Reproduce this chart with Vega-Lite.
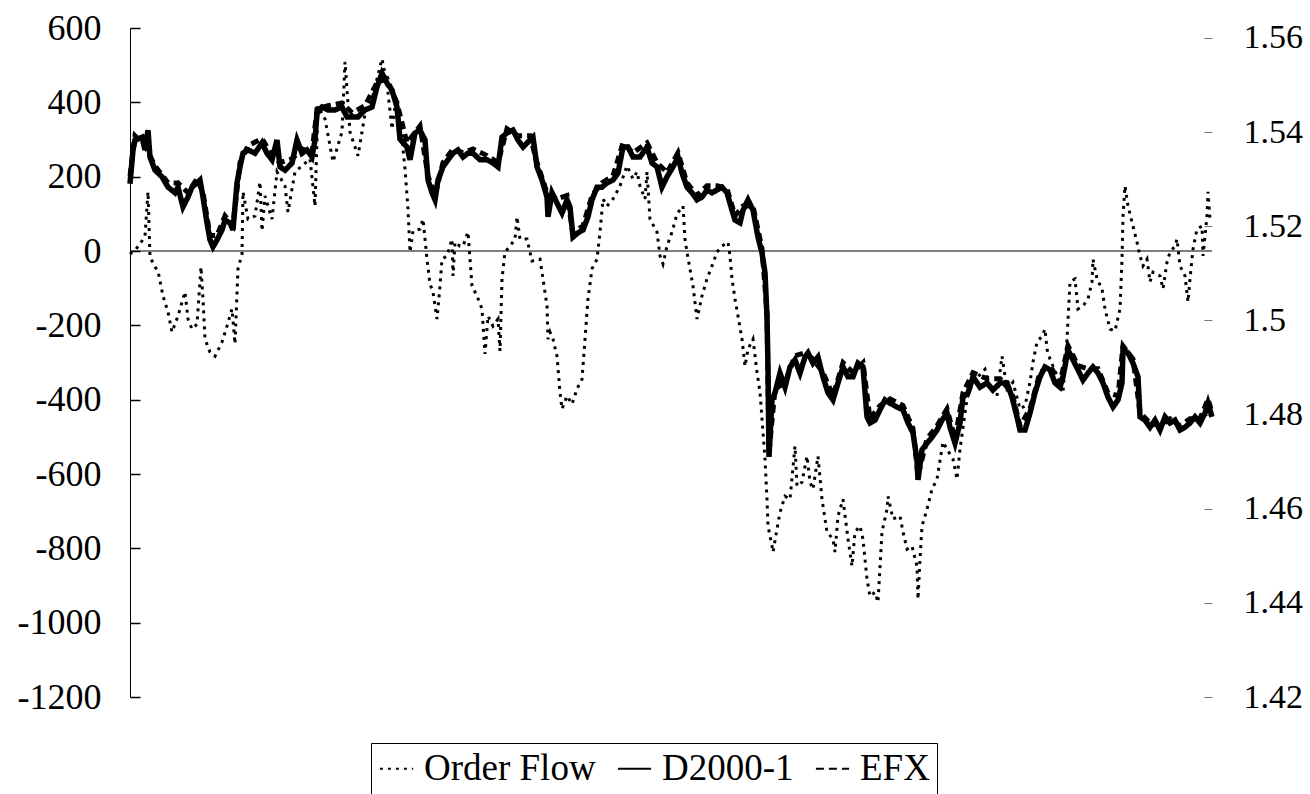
{
  "$schema": "https://vega.github.io/schema/vega-lite/v6.json",
  "width": 1082,
  "height": 669,
  "autosize": {"type": "none"},
  "padding": {"left": 130, "top": 28, "right": 98, "bottom": 97},
  "background": "white",
  "config": {
    "view": {"stroke": null},
    "font": "Liberation Serif",
    "legend": {
      "orient": "none",
      "legendX": 241,
      "legendY": 715,
      "direction": "horizontal",
      "symbolType": "stroke",
      "symbolSize": 1100,
      "symbolStrokeWidth": 2,
      "symbolStrokeColor": "black",
      "labelFont": "Liberation Serif",
      "labelFontSize": 37,
      "labelColor": "black",
      "labelLimit": 400,
      "labelOffset": 9,
      "columnPadding": 17,
      "strokeColor": "black",
      "padding": 7,
      "title": null
    }
  },
  "datasets": {
    "of": [
      {"t":0,"v":-8,"series":"Order Flow"},{"t":6,"v":5,"series":"Order Flow"},{"t":10,"v":19,"series":"Order Flow"},{"t":15,"v":40,"series":"Order Flow"},{"t":18,"v":159,"series":"Order Flow"},{"t":20,"v":-16,"series":"Order Flow"},{"t":25,"v":-43,"series":"Order Flow"},{"t":28,"v":-54,"series":"Order Flow"},{"t":33,"v":-121,"series":"Order Flow"},{"t":38,"v":-164,"series":"Order Flow"},{"t":42,"v":-218,"series":"Order Flow"},{"t":48,"v":-175,"series":"Order Flow"},{"t":55,"v":-110,"series":"Order Flow"},{"t":58,"v":-183,"series":"Order Flow"},{"t":62,"v":-210,"series":"Order Flow"},{"t":67,"v":-197,"series":"Order Flow"},{"t":71,"v":-43,"series":"Order Flow"},{"t":73,"v":-129,"series":"Order Flow"},{"t":75,"v":-237,"series":"Order Flow"},{"t":80,"v":-272,"series":"Order Flow"},{"t":85,"v":-283,"series":"Order Flow"},{"t":92,"v":-245,"series":"Order Flow"},{"t":97,"v":-202,"series":"Order Flow"},{"t":102,"v":-156,"series":"Order Flow"},{"t":105,"v":-250,"series":"Order Flow"},{"t":108,"v":-48,"series":"Order Flow"},{"t":112,"v":-8,"series":"Order Flow"},{"t":113,"v":159,"series":"Order Flow"},{"t":118,"v":86,"series":"Order Flow"},{"t":125,"v":94,"series":"Order Flow"},{"t":130,"v":186,"series":"Order Flow"},{"t":132,"v":54,"series":"Order Flow"},{"t":135,"v":148,"series":"Order Flow"},{"t":142,"v":86,"series":"Order Flow"},{"t":147,"v":213,"series":"Order Flow"},{"t":155,"v":175,"series":"Order Flow"},{"t":158,"v":105,"series":"Order Flow"},{"t":165,"v":213,"series":"Order Flow"},{"t":172,"v":229,"series":"Order Flow"},{"t":180,"v":248,"series":"Order Flow"},{"t":185,"v":121,"series":"Order Flow"},{"t":188,"v":390,"series":"Order Flow"},{"t":195,"v":355,"series":"Order Flow"},{"t":203,"v":240,"series":"Order Flow"},{"t":212,"v":320,"series":"Order Flow"},{"t":215,"v":509,"series":"Order Flow"},{"t":220,"v":320,"series":"Order Flow"},{"t":228,"v":256,"series":"Order Flow"},{"t":235,"v":369,"series":"Order Flow"},{"t":242,"v":409,"series":"Order Flow"},{"t":252,"v":517,"series":"Order Flow"},{"t":257,"v":450,"series":"Order Flow"},{"t":262,"v":328,"series":"Order Flow"},{"t":266,"v":409,"series":"Order Flow"},{"t":272,"v":301,"series":"Order Flow"},{"t":275,"v":221,"series":"Order Flow"},{"t":278,"v":113,"series":"Order Flow"},{"t":280,"v":-3,"series":"Order Flow"},{"t":283,"v":54,"series":"Order Flow"},{"t":290,"v":59,"series":"Order Flow"},{"t":293,"v":86,"series":"Order Flow"},{"t":297,"v":-22,"series":"Order Flow"},{"t":300,"v":-89,"series":"Order Flow"},{"t":303,"v":-110,"series":"Order Flow"},{"t":307,"v":-183,"series":"Order Flow"},{"t":310,"v":-94,"series":"Order Flow"},{"t":312,"v":-22,"series":"Order Flow"},{"t":317,"v":-13,"series":"Order Flow"},{"t":322,"v":32,"series":"Order Flow"},{"t":323,"v":-67,"series":"Order Flow"},{"t":325,"v":24,"series":"Order Flow"},{"t":330,"v":13,"series":"Order Flow"},{"t":333,"v":13,"series":"Order Flow"},{"t":338,"v":51,"series":"Order Flow"},{"t":342,"v":-94,"series":"Order Flow"},{"t":347,"v":-121,"series":"Order Flow"},{"t":352,"v":-156,"series":"Order Flow"},{"t":355,"v":-277,"series":"Order Flow"},{"t":358,"v":-175,"series":"Order Flow"},{"t":363,"v":-202,"series":"Order Flow"},{"t":368,"v":-183,"series":"Order Flow"},{"t":370,"v":-269,"series":"Order Flow"},{"t":372,"v":-75,"series":"Order Flow"},{"t":375,"v":-3,"series":"Order Flow"},{"t":380,"v":13,"series":"Order Flow"},{"t":385,"v":32,"series":"Order Flow"},{"t":387,"v":92,"series":"Order Flow"},{"t":390,"v":32,"series":"Order Flow"},{"t":397,"v":32,"series":"Order Flow"},{"t":402,"v":-27,"series":"Order Flow"},{"t":410,"v":-22,"series":"Order Flow"},{"t":413,"v":-75,"series":"Order Flow"},{"t":417,"v":-148,"series":"Order Flow"},{"t":418,"v":-237,"series":"Order Flow"},{"t":420,"v":-218,"series":"Order Flow"},{"t":423,"v":-237,"series":"Order Flow"},{"t":427,"v":-283,"series":"Order Flow"},{"t":430,"v":-380,"series":"Order Flow"},{"t":432,"v":-425,"series":"Order Flow"},{"t":437,"v":-390,"series":"Order Flow"},{"t":442,"v":-412,"series":"Order Flow"},{"t":447,"v":-371,"series":"Order Flow"},{"t":452,"v":-345,"series":"Order Flow"},{"t":455,"v":-237,"series":"Order Flow"},{"t":458,"v":-129,"series":"Order Flow"},{"t":462,"v":-48,"series":"Order Flow"},{"t":467,"v":-22,"series":"Order Flow"},{"t":470,"v":51,"series":"Order Flow"},{"t":473,"v":140,"series":"Order Flow"},{"t":477,"v":121,"series":"Order Flow"},{"t":483,"v":140,"series":"Order Flow"},{"t":490,"v":175,"series":"Order Flow"},{"t":497,"v":229,"series":"Order Flow"},{"t":503,"v":194,"series":"Order Flow"},{"t":507,"v":213,"series":"Order Flow"},{"t":510,"v":175,"series":"Order Flow"},{"t":515,"v":140,"series":"Order Flow"},{"t":517,"v":213,"series":"Order Flow"},{"t":520,"v":86,"series":"Order Flow"},{"t":527,"v":51,"series":"Order Flow"},{"t":530,"v":-13,"series":"Order Flow"},{"t":533,"v":-35,"series":"Order Flow"},{"t":537,"v":13,"series":"Order Flow"},{"t":542,"v":51,"series":"Order Flow"},{"t":547,"v":100,"series":"Order Flow"},{"t":553,"v":121,"series":"Order Flow"},{"t":555,"v":32,"series":"Order Flow"},{"t":557,"v":-3,"series":"Order Flow"},{"t":563,"v":-94,"series":"Order Flow"},{"t":567,"v":-183,"series":"Order Flow"},{"t":572,"v":-121,"series":"Order Flow"},{"t":577,"v":-75,"series":"Order Flow"},{"t":582,"v":-40,"series":"Order Flow"},{"t":587,"v":-3,"series":"Order Flow"},{"t":592,"v":13,"series":"Order Flow"},{"t":598,"v":24,"series":"Order Flow"},{"t":600,"v":-13,"series":"Order Flow"},{"t":602,"v":-75,"series":"Order Flow"},{"t":605,"v":-129,"series":"Order Flow"},{"t":608,"v":-175,"series":"Order Flow"},{"t":612,"v":-237,"series":"Order Flow"},{"t":615,"v":-310,"series":"Order Flow"},{"t":618,"v":-264,"series":"Order Flow"},{"t":623,"v":-237,"series":"Order Flow"},{"t":627,"v":-326,"series":"Order Flow"},{"t":630,"v":-380,"series":"Order Flow"},{"t":633,"v":-487,"series":"Order Flow"},{"t":635,"v":-560,"series":"Order Flow"},{"t":637,"v":-668,"series":"Order Flow"},{"t":638,"v":-740,"series":"Order Flow"},{"t":642,"v":-794,"series":"Order Flow"},{"t":643,"v":-810,"series":"Order Flow"},{"t":647,"v":-748,"series":"Order Flow"},{"t":650,"v":-703,"series":"Order Flow"},{"t":655,"v":-660,"series":"Order Flow"},{"t":660,"v":-668,"series":"Order Flow"},{"t":665,"v":-525,"series":"Order Flow"},{"t":667,"v":-633,"series":"Order Flow"},{"t":672,"v":-622,"series":"Order Flow"},{"t":677,"v":-552,"series":"Order Flow"},{"t":680,"v":-622,"series":"Order Flow"},{"t":683,"v":-641,"series":"Order Flow"},{"t":688,"v":-552,"series":"Order Flow"},{"t":692,"v":-668,"series":"Order Flow"},{"t":697,"v":-756,"series":"Order Flow"},{"t":703,"v":-775,"series":"Order Flow"},{"t":705,"v":-810,"series":"Order Flow"},{"t":708,"v":-713,"series":"Order Flow"},{"t":713,"v":-668,"series":"Order Flow"},{"t":718,"v":-775,"series":"Order Flow"},{"t":722,"v":-848,"series":"Order Flow"},{"t":725,"v":-756,"series":"Order Flow"},{"t":730,"v":-740,"series":"Order Flow"},{"t":733,"v":-775,"series":"Order Flow"},{"t":737,"v":-883,"series":"Order Flow"},{"t":740,"v":-929,"series":"Order Flow"},{"t":745,"v":-918,"series":"Order Flow"},{"t":748,"v":-945,"series":"Order Flow"},{"t":752,"v":-756,"series":"Order Flow"},{"t":757,"v":-695,"series":"Order Flow"},{"t":758,"v":-660,"series":"Order Flow"},{"t":763,"v":-721,"series":"Order Flow"},{"t":770,"v":-713,"series":"Order Flow"},{"t":773,"v":-756,"series":"Order Flow"},{"t":777,"v":-802,"series":"Order Flow"},{"t":782,"v":-794,"series":"Order Flow"},{"t":787,"v":-848,"series":"Order Flow"},{"t":788,"v":-937,"series":"Order Flow"},{"t":790,"v":-829,"series":"Order Flow"},{"t":792,"v":-740,"series":"Order Flow"},{"t":797,"v":-695,"series":"Order Flow"},{"t":802,"v":-641,"series":"Order Flow"},{"t":807,"v":-614,"series":"Order Flow"},{"t":813,"v":-514,"series":"Order Flow"},{"t":817,"v":-533,"series":"Order Flow"},{"t":823,"v":-560,"series":"Order Flow"},{"t":827,"v":-614,"series":"Order Flow"},{"t":830,"v":-533,"series":"Order Flow"},{"t":837,"v":-398,"series":"Order Flow"},{"t":843,"v":-353,"series":"Order Flow"},{"t":855,"v":-318,"series":"Order Flow"},{"t":860,"v":-371,"series":"Order Flow"},{"t":867,"v":-390,"series":"Order Flow"},{"t":872,"v":-283,"series":"Order Flow"},{"t":877,"v":-371,"series":"Order Flow"},{"t":883,"v":-353,"series":"Order Flow"},{"t":890,"v":-425,"series":"Order Flow"},{"t":895,"v":-417,"series":"Order Flow"},{"t":900,"v":-353,"series":"Order Flow"},{"t":903,"v":-299,"series":"Order Flow"},{"t":907,"v":-245,"series":"Order Flow"},{"t":912,"v":-229,"series":"Order Flow"},{"t":915,"v":-210,"series":"Order Flow"},{"t":917,"v":-264,"series":"Order Flow"},{"t":920,"v":-291,"series":"Order Flow"},{"t":930,"v":-353,"series":"Order Flow"},{"t":933,"v":-380,"series":"Order Flow"},{"t":937,"v":-237,"series":"Order Flow"},{"t":940,"v":-83,"series":"Order Flow"},{"t":945,"v":-75,"series":"Order Flow"},{"t":948,"v":-156,"series":"Order Flow"},{"t":953,"v":-148,"series":"Order Flow"},{"t":958,"v":-129,"series":"Order Flow"},{"t":962,"v":-83,"series":"Order Flow"},{"t":963,"v":-22,"series":"Order Flow"},{"t":967,"v":-75,"series":"Order Flow"},{"t":972,"v":-102,"series":"Order Flow"},{"t":975,"v":-156,"series":"Order Flow"},{"t":980,"v":-210,"series":"Order Flow"},{"t":985,"v":-215,"series":"Order Flow"},{"t":990,"v":-156,"series":"Order Flow"},{"t":992,"v":-22,"series":"Order Flow"},{"t":993,"v":94,"series":"Order Flow"},{"t":995,"v":175,"series":"Order Flow"},{"t":998,"v":121,"series":"Order Flow"},{"t":1003,"v":67,"series":"Order Flow"},{"t":1007,"v":24,"series":"Order Flow"},{"t":1010,"v":-13,"series":"Order Flow"},{"t":1013,"v":-40,"series":"Order Flow"},{"t":1017,"v":-22,"series":"Order Flow"},{"t":1020,"v":-83,"series":"Order Flow"},{"t":1023,"v":-57,"series":"Order Flow"},{"t":1030,"v":-67,"series":"Order Flow"},{"t":1033,"v":-102,"series":"Order Flow"},{"t":1037,"v":-30,"series":"Order Flow"},{"t":1040,"v":-3,"series":"Order Flow"},{"t":1045,"v":13,"series":"Order Flow"},{"t":1047,"v":32,"series":"Order Flow"},{"t":1050,"v":-40,"series":"Order Flow"},{"t":1055,"v":-67,"series":"Order Flow"},{"t":1058,"v":-137,"series":"Order Flow"},{"t":1060,"v":-75,"series":"Order Flow"},{"t":1063,"v":5,"series":"Order Flow"},{"t":1067,"v":59,"series":"Order Flow"},{"t":1072,"v":67,"series":"Order Flow"},{"t":1073,"v":-13,"series":"Order Flow"},{"t":1077,"v":94,"series":"Order Flow"},{"t":1078,"v":159,"series":"Order Flow"},{"t":1080,"v":86,"series":"Order Flow"}
    ],
    "d2000": [
      {"t":0,"v":1.5290,"series":"D2000-1"},{"t":3,"v":1.5362,"series":"D2000-1"},{"t":5,"v":1.5383,"series":"D2000-1"},{"t":12,"v":1.5389,"series":"D2000-1"},{"t":15,"v":1.5362,"series":"D2000-1"},{"t":18,"v":1.5404,"series":"D2000-1"},{"t":20,"v":1.5347,"series":"D2000-1"},{"t":25,"v":1.5319,"series":"D2000-1"},{"t":32,"v":1.5305,"series":"D2000-1"},{"t":38,"v":1.5283,"series":"D2000-1"},{"t":45,"v":1.5271,"series":"D2000-1"},{"t":48,"v":1.5283,"series":"D2000-1"},{"t":53,"v":1.5241,"series":"D2000-1"},{"t":58,"v":1.5262,"series":"D2000-1"},{"t":62,"v":1.5283,"series":"D2000-1"},{"t":67,"v":1.5292,"series":"D2000-1"},{"t":70,"v":1.5298,"series":"D2000-1"},{"t":73,"v":1.5262,"series":"D2000-1"},{"t":77,"v":1.5207,"series":"D2000-1"},{"t":80,"v":1.5171,"series":"D2000-1"},{"t":83,"v":1.5156,"series":"D2000-1"},{"t":87,"v":1.5171,"series":"D2000-1"},{"t":92,"v":1.5192,"series":"D2000-1"},{"t":95,"v":1.5213,"series":"D2000-1"},{"t":100,"v":1.5207,"series":"D2000-1"},{"t":103,"v":1.5192,"series":"D2000-1"},{"t":107,"v":1.5292,"series":"D2000-1"},{"t":110,"v":1.5326,"series":"D2000-1"},{"t":113,"v":1.5355,"series":"D2000-1"},{"t":118,"v":1.5362,"series":"D2000-1"},{"t":125,"v":1.5355,"series":"D2000-1"},{"t":132,"v":1.5377,"series":"D2000-1"},{"t":137,"v":1.5355,"series":"D2000-1"},{"t":142,"v":1.5341,"series":"D2000-1"},{"t":147,"v":1.5383,"series":"D2000-1"},{"t":150,"v":1.5326,"series":"D2000-1"},{"t":155,"v":1.5319,"series":"D2000-1"},{"t":162,"v":1.5334,"series":"D2000-1"},{"t":167,"v":1.5383,"series":"D2000-1"},{"t":172,"v":1.5355,"series":"D2000-1"},{"t":177,"v":1.5362,"series":"D2000-1"},{"t":182,"v":1.5347,"series":"D2000-1"},{"t":185,"v":1.5383,"series":"D2000-1"},{"t":187,"v":1.5440,"series":"D2000-1"},{"t":192,"v":1.5453,"series":"D2000-1"},{"t":198,"v":1.5447,"series":"D2000-1"},{"t":205,"v":1.5447,"series":"D2000-1"},{"t":212,"v":1.5453,"series":"D2000-1"},{"t":217,"v":1.5432,"series":"D2000-1"},{"t":222,"v":1.5432,"series":"D2000-1"},{"t":228,"v":1.5432,"series":"D2000-1"},{"t":235,"v":1.5447,"series":"D2000-1"},{"t":242,"v":1.5453,"series":"D2000-1"},{"t":247,"v":1.5496,"series":"D2000-1"},{"t":252,"v":1.5525,"series":"D2000-1"},{"t":257,"v":1.5504,"series":"D2000-1"},{"t":262,"v":1.5489,"series":"D2000-1"},{"t":267,"v":1.5453,"series":"D2000-1"},{"t":270,"v":1.5385,"series":"D2000-1"},{"t":277,"v":1.5368,"series":"D2000-1"},{"t":280,"v":1.5341,"series":"D2000-1"},{"t":285,"v":1.5398,"series":"D2000-1"},{"t":290,"v":1.5404,"series":"D2000-1"},{"t":295,"v":1.5383,"series":"D2000-1"},{"t":298,"v":1.5298,"series":"D2000-1"},{"t":302,"v":1.5271,"series":"D2000-1"},{"t":305,"v":1.5256,"series":"D2000-1"},{"t":308,"v":1.5298,"series":"D2000-1"},{"t":313,"v":1.5326,"series":"D2000-1"},{"t":318,"v":1.5341,"series":"D2000-1"},{"t":323,"v":1.5355,"series":"D2000-1"},{"t":328,"v":1.5362,"series":"D2000-1"},{"t":333,"v":1.5347,"series":"D2000-1"},{"t":338,"v":1.5355,"series":"D2000-1"},{"t":343,"v":1.5355,"series":"D2000-1"},{"t":350,"v":1.5341,"series":"D2000-1"},{"t":357,"v":1.5341,"series":"D2000-1"},{"t":363,"v":1.5334,"series":"D2000-1"},{"t":368,"v":1.5326,"series":"D2000-1"},{"t":372,"v":1.5389,"series":"D2000-1"},{"t":377,"v":1.5398,"series":"D2000-1"},{"t":383,"v":1.5404,"series":"D2000-1"},{"t":388,"v":1.5383,"series":"D2000-1"},{"t":393,"v":1.5368,"series":"D2000-1"},{"t":400,"v":1.5383,"series":"D2000-1"},{"t":403,"v":1.5389,"series":"D2000-1"},{"t":407,"v":1.5326,"series":"D2000-1"},{"t":412,"v":1.5298,"series":"D2000-1"},{"t":417,"v":1.5262,"series":"D2000-1"},{"t":418,"v":1.5220,"series":"D2000-1"},{"t":422,"v":1.5271,"series":"D2000-1"},{"t":427,"v":1.5249,"series":"D2000-1"},{"t":432,"v":1.5228,"series":"D2000-1"},{"t":437,"v":1.5256,"series":"D2000-1"},{"t":440,"v":1.5241,"series":"D2000-1"},{"t":443,"v":1.5177,"series":"D2000-1"},{"t":448,"v":1.5186,"series":"D2000-1"},{"t":453,"v":1.5192,"series":"D2000-1"},{"t":458,"v":1.5220,"series":"D2000-1"},{"t":462,"v":1.5256,"series":"D2000-1"},{"t":467,"v":1.5283,"series":"D2000-1"},{"t":472,"v":1.5283,"series":"D2000-1"},{"t":477,"v":1.5292,"series":"D2000-1"},{"t":483,"v":1.5298,"series":"D2000-1"},{"t":488,"v":1.5313,"series":"D2000-1"},{"t":493,"v":1.5368,"series":"D2000-1"},{"t":498,"v":1.5368,"series":"D2000-1"},{"t":503,"v":1.5347,"series":"D2000-1"},{"t":510,"v":1.5347,"series":"D2000-1"},{"t":517,"v":1.5368,"series":"D2000-1"},{"t":522,"v":1.5334,"series":"D2000-1"},{"t":527,"v":1.5326,"series":"D2000-1"},{"t":532,"v":1.5283,"series":"D2000-1"},{"t":537,"v":1.5305,"series":"D2000-1"},{"t":543,"v":1.5326,"series":"D2000-1"},{"t":548,"v":1.5347,"series":"D2000-1"},{"t":552,"v":1.5313,"series":"D2000-1"},{"t":557,"v":1.5283,"series":"D2000-1"},{"t":562,"v":1.5271,"series":"D2000-1"},{"t":567,"v":1.5256,"series":"D2000-1"},{"t":572,"v":1.5262,"series":"D2000-1"},{"t":577,"v":1.5277,"series":"D2000-1"},{"t":582,"v":1.5271,"series":"D2000-1"},{"t":587,"v":1.5277,"series":"D2000-1"},{"t":592,"v":1.5283,"series":"D2000-1"},{"t":597,"v":1.5271,"series":"D2000-1"},{"t":602,"v":1.5234,"series":"D2000-1"},{"t":605,"v":1.5213,"series":"D2000-1"},{"t":610,"v":1.5207,"series":"D2000-1"},{"t":613,"v":1.5234,"series":"D2000-1"},{"t":618,"v":1.5256,"series":"D2000-1"},{"t":623,"v":1.5234,"series":"D2000-1"},{"t":628,"v":1.5177,"series":"D2000-1"},{"t":632,"v":1.5143,"series":"D2000-1"},{"t":635,"v":1.5101,"series":"D2000-1"},{"t":637,"v":1.5007,"series":"D2000-1"},{"t":638,"v":1.4901,"series":"D2000-1"},{"t":639,"v":1.4710,"series":"D2000-1"},{"t":642,"v":1.4831,"series":"D2000-1"},{"t":645,"v":1.4846,"series":"D2000-1"},{"t":650,"v":1.4888,"series":"D2000-1"},{"t":655,"v":1.4858,"series":"D2000-1"},{"t":660,"v":1.4901,"series":"D2000-1"},{"t":665,"v":1.4916,"series":"D2000-1"},{"t":670,"v":1.4888,"series":"D2000-1"},{"t":675,"v":1.4922,"series":"D2000-1"},{"t":678,"v":1.4931,"series":"D2000-1"},{"t":683,"v":1.4909,"series":"D2000-1"},{"t":688,"v":1.4922,"series":"D2000-1"},{"t":693,"v":1.4880,"series":"D2000-1"},{"t":698,"v":1.4846,"series":"D2000-1"},{"t":703,"v":1.4831,"series":"D2000-1"},{"t":708,"v":1.4867,"series":"D2000-1"},{"t":713,"v":1.4901,"series":"D2000-1"},{"t":718,"v":1.4880,"series":"D2000-1"},{"t":723,"v":1.4880,"series":"D2000-1"},{"t":728,"v":1.4909,"series":"D2000-1"},{"t":733,"v":1.4901,"series":"D2000-1"},{"t":737,"v":1.4795,"series":"D2000-1"},{"t":740,"v":1.4782,"series":"D2000-1"},{"t":745,"v":1.4788,"series":"D2000-1"},{"t":750,"v":1.4810,"series":"D2000-1"},{"t":755,"v":1.4831,"series":"D2000-1"},{"t":760,"v":1.4824,"series":"D2000-1"},{"t":767,"v":1.4816,"series":"D2000-1"},{"t":773,"v":1.4810,"series":"D2000-1"},{"t":778,"v":1.4782,"series":"D2000-1"},{"t":783,"v":1.4761,"series":"D2000-1"},{"t":787,"v":1.4703,"series":"D2000-1"},{"t":788,"v":1.4661,"series":"D2000-1"},{"t":792,"v":1.4725,"series":"D2000-1"},{"t":797,"v":1.4739,"series":"D2000-1"},{"t":802,"v":1.4752,"series":"D2000-1"},{"t":807,"v":1.4767,"series":"D2000-1"},{"t":812,"v":1.4788,"series":"D2000-1"},{"t":817,"v":1.4803,"series":"D2000-1"},{"t":820,"v":1.4773,"series":"D2000-1"},{"t":825,"v":1.4739,"series":"D2000-1"},{"t":830,"v":1.4782,"series":"D2000-1"},{"t":833,"v":1.4837,"series":"D2000-1"},{"t":838,"v":1.4846,"series":"D2000-1"},{"t":843,"v":1.4880,"series":"D2000-1"},{"t":850,"v":1.4858,"series":"D2000-1"},{"t":857,"v":1.4867,"series":"D2000-1"},{"t":863,"v":1.4852,"series":"D2000-1"},{"t":870,"v":1.4867,"series":"D2000-1"},{"t":877,"v":1.4867,"series":"D2000-1"},{"t":882,"v":1.4837,"series":"D2000-1"},{"t":887,"v":1.4795,"series":"D2000-1"},{"t":890,"v":1.4767,"series":"D2000-1"},{"t":895,"v":1.4767,"series":"D2000-1"},{"t":900,"v":1.4803,"series":"D2000-1"},{"t":905,"v":1.4846,"series":"D2000-1"},{"t":910,"v":1.4880,"series":"D2000-1"},{"t":915,"v":1.4901,"series":"D2000-1"},{"t":920,"v":1.4895,"series":"D2000-1"},{"t":925,"v":1.4867,"series":"D2000-1"},{"t":930,"v":1.4858,"series":"D2000-1"},{"t":933,"v":1.4880,"series":"D2000-1"},{"t":938,"v":1.4937,"series":"D2000-1"},{"t":943,"v":1.4916,"series":"D2000-1"},{"t":948,"v":1.4895,"series":"D2000-1"},{"t":953,"v":1.4873,"series":"D2000-1"},{"t":958,"v":1.4888,"series":"D2000-1"},{"t":963,"v":1.4901,"series":"D2000-1"},{"t":968,"v":1.4888,"series":"D2000-1"},{"t":973,"v":1.4867,"series":"D2000-1"},{"t":978,"v":1.4837,"series":"D2000-1"},{"t":983,"v":1.4816,"series":"D2000-1"},{"t":988,"v":1.4831,"series":"D2000-1"},{"t":992,"v":1.4867,"series":"D2000-1"},{"t":993,"v":1.4937,"series":"D2000-1"},{"t":998,"v":1.4931,"series":"D2000-1"},{"t":1003,"v":1.4909,"series":"D2000-1"},{"t":1008,"v":1.4880,"series":"D2000-1"},{"t":1010,"v":1.4795,"series":"D2000-1"},{"t":1015,"v":1.4788,"series":"D2000-1"},{"t":1020,"v":1.4773,"series":"D2000-1"},{"t":1025,"v":1.4788,"series":"D2000-1"},{"t":1030,"v":1.4767,"series":"D2000-1"},{"t":1035,"v":1.4795,"series":"D2000-1"},{"t":1040,"v":1.4782,"series":"D2000-1"},{"t":1045,"v":1.4788,"series":"D2000-1"},{"t":1050,"v":1.4767,"series":"D2000-1"},{"t":1055,"v":1.4773,"series":"D2000-1"},{"t":1060,"v":1.4782,"series":"D2000-1"},{"t":1065,"v":1.4795,"series":"D2000-1"},{"t":1070,"v":1.4782,"series":"D2000-1"},{"t":1075,"v":1.4803,"series":"D2000-1"},{"t":1078,"v":1.4824,"series":"D2000-1"},{"t":1082,"v":1.4795,"series":"D2000-1"}
    ],
    "efx": [
      {"t":0,"v":1.5307,"series":"EFX"},{"t":5,"v":1.5392,"series":"EFX"},{"t":15,"v":1.5371,"series":"EFX"},{"t":25,"v":1.5328,"series":"EFX"},{"t":38,"v":1.5292,"series":"EFX"},{"t":48,"v":1.5292,"series":"EFX"},{"t":58,"v":1.5271,"series":"EFX"},{"t":67,"v":1.5301,"series":"EFX"},{"t":73,"v":1.5271,"series":"EFX"},{"t":80,"v":1.5180,"series":"EFX"},{"t":87,"v":1.5180,"series":"EFX"},{"t":95,"v":1.5222,"series":"EFX"},{"t":103,"v":1.5201,"series":"EFX"},{"t":110,"v":1.5335,"series":"EFX"},{"t":118,"v":1.5371,"series":"EFX"},{"t":132,"v":1.5386,"series":"EFX"},{"t":142,"v":1.5350,"series":"EFX"},{"t":150,"v":1.5335,"series":"EFX"},{"t":162,"v":1.5343,"series":"EFX"},{"t":172,"v":1.5364,"series":"EFX"},{"t":182,"v":1.5356,"series":"EFX"},{"t":187,"v":1.5449,"series":"EFX"},{"t":198,"v":1.5456,"series":"EFX"},{"t":212,"v":1.5462,"series":"EFX"},{"t":222,"v":1.5441,"series":"EFX"},{"t":235,"v":1.5456,"series":"EFX"},{"t":247,"v":1.5505,"series":"EFX"},{"t":257,"v":1.5513,"series":"EFX"},{"t":267,"v":1.5462,"series":"EFX"},{"t":277,"v":1.5377,"series":"EFX"},{"t":290,"v":1.5413,"series":"EFX"},{"t":298,"v":1.5307,"series":"EFX"},{"t":305,"v":1.5265,"series":"EFX"},{"t":313,"v":1.5335,"series":"EFX"},{"t":323,"v":1.5364,"series":"EFX"},{"t":333,"v":1.5356,"series":"EFX"},{"t":343,"v":1.5364,"series":"EFX"},{"t":357,"v":1.5350,"series":"EFX"},{"t":368,"v":1.5335,"series":"EFX"},{"t":377,"v":1.5407,"series":"EFX"},{"t":388,"v":1.5392,"series":"EFX"},{"t":400,"v":1.5392,"series":"EFX"},{"t":407,"v":1.5335,"series":"EFX"},{"t":417,"v":1.5271,"series":"EFX"},{"t":427,"v":1.5258,"series":"EFX"},{"t":437,"v":1.5265,"series":"EFX"},{"t":443,"v":1.5186,"series":"EFX"},{"t":453,"v":1.5201,"series":"EFX"},{"t":462,"v":1.5265,"series":"EFX"},{"t":472,"v":1.5292,"series":"EFX"},{"t":483,"v":1.5307,"series":"EFX"},{"t":493,"v":1.5377,"series":"EFX"},{"t":503,"v":1.5356,"series":"EFX"},{"t":517,"v":1.5377,"series":"EFX"},{"t":527,"v":1.5335,"series":"EFX"},{"t":537,"v":1.5314,"series":"EFX"},{"t":548,"v":1.5356,"series":"EFX"},{"t":557,"v":1.5292,"series":"EFX"},{"t":567,"v":1.5265,"series":"EFX"},{"t":577,"v":1.5286,"series":"EFX"},{"t":587,"v":1.5286,"series":"EFX"},{"t":597,"v":1.5280,"series":"EFX"},{"t":605,"v":1.5222,"series":"EFX"},{"t":613,"v":1.5243,"series":"EFX"},{"t":623,"v":1.5243,"series":"EFX"},{"t":632,"v":1.5152,"series":"EFX"},{"t":637,"v":1.5016,"series":"EFX"},{"t":639,"v":1.4719,"series":"EFX"},{"t":645,"v":1.4855,"series":"EFX"},{"t":655,"v":1.4867,"series":"EFX"},{"t":665,"v":1.4925,"series":"EFX"},{"t":675,"v":1.4931,"series":"EFX"},{"t":683,"v":1.4918,"series":"EFX"},{"t":693,"v":1.4889,"series":"EFX"},{"t":703,"v":1.4840,"series":"EFX"},{"t":713,"v":1.4910,"series":"EFX"},{"t":723,"v":1.4889,"series":"EFX"},{"t":733,"v":1.4910,"series":"EFX"},{"t":740,"v":1.4791,"series":"EFX"},{"t":750,"v":1.4819,"series":"EFX"},{"t":760,"v":1.4833,"series":"EFX"},{"t":773,"v":1.4819,"series":"EFX"},{"t":783,"v":1.4770,"series":"EFX"},{"t":788,"v":1.4670,"series":"EFX"},{"t":797,"v":1.4748,"series":"EFX"},{"t":807,"v":1.4776,"series":"EFX"},{"t":817,"v":1.4812,"series":"EFX"},{"t":825,"v":1.4748,"series":"EFX"},{"t":833,"v":1.4846,"series":"EFX"},{"t":843,"v":1.4889,"series":"EFX"},{"t":857,"v":1.4876,"series":"EFX"},{"t":870,"v":1.4876,"series":"EFX"},{"t":882,"v":1.4846,"series":"EFX"},{"t":890,"v":1.4776,"series":"EFX"},{"t":900,"v":1.4812,"series":"EFX"},{"t":910,"v":1.4889,"series":"EFX"},{"t":920,"v":1.4904,"series":"EFX"},{"t":930,"v":1.4867,"series":"EFX"},{"t":938,"v":1.4946,"series":"EFX"},{"t":948,"v":1.4904,"series":"EFX"},{"t":958,"v":1.4897,"series":"EFX"},{"t":968,"v":1.4897,"series":"EFX"},{"t":978,"v":1.4846,"series":"EFX"},{"t":988,"v":1.4840,"series":"EFX"},{"t":993,"v":1.4946,"series":"EFX"},{"t":1003,"v":1.4918,"series":"EFX"},{"t":1010,"v":1.4804,"series":"EFX"},{"t":1020,"v":1.4782,"series":"EFX"},{"t":1030,"v":1.4776,"series":"EFX"},{"t":1040,"v":1.4791,"series":"EFX"},{"t":1050,"v":1.4776,"series":"EFX"},{"t":1060,"v":1.4791,"series":"EFX"},{"t":1070,"v":1.4791,"series":"EFX"},{"t":1078,"v":1.4833,"series":"EFX"},{"t":1082,"v":1.4804,"series":"EFX"}
    ]
  },
  "layer": [
    {
      "layer": [
        {
          "data": {"name": "of"},
          "mark": {"type": "line", "color": "black", "strokeWidth": 3},
          "encoding": {
            "x": {"field": "t", "type": "quantitative", "scale": {"domain": [0, 1082], "nice": false, "zero": false}, "axis": null},
            "y": {
              "field": "v", "type": "quantitative",
              "scale": {"domain": [-1200, 600], "nice": false, "zero": false},
              "axis": {
                "orient": "left", "title": null, "grid": false,
                "values": [-1200, -1000, -800, -600, -400, -200, 0, 200, 400, 600],
                "labelExpr": "'' + datum.value",
                "labelFont": "Liberation Serif", "labelFontSize": 36, "labelColor": "black",
                "tickColor": "black", "domainColor": "black", "tickSize": -10, "tickWidth": 1.5, "labelPadding": 39,
                "labelFlush": false, "labelOverlap": false
              }
            },
            "strokeDash": {
              "field": "series", "type": "nominal",
              "scale": {"domain": ["Order Flow", "D2000-1", "EFX"], "range": [[3, 5], [1, 0], [8, 5]]},
              "legend": {}
            }
          }
        },
        {
          "data": {"values": [{"z": 0}]},
          "mark": {"type": "rule", "color": "black", "strokeWidth": 1.2},
          "encoding": {"y": {"field": "z", "type": "quantitative"}}
        }
      ]
    },
    {
      "layer": [
        {
          "data": {"name": "d2000"},
          "mark": {"type": "line", "color": "black", "strokeWidth": 5.5},
          "encoding": {
            "x": {"field": "t", "type": "quantitative", "scale": {"domain": [0, 1082], "nice": false, "zero": false}, "axis": null},
            "y": {
              "field": "v", "type": "quantitative",
              "scale": {"domain": [1.42, 1.5621], "nice": false, "zero": false},
              "axis": {
                "orient": "right", "title": null, "grid": false, "domain": false,
                "values": [1.42, 1.44, 1.46, 1.48, 1.5, 1.52, 1.54, 1.56],
                "format": ".2~f",
                "labelFont": "Liberation Serif", "labelFontSize": 34, "labelColor": "black",
                "tickColor": "#777777", "tickSize": -8, "labelPadding": 39,
                "labelFlush": false, "labelOverlap": false
              }
            },
            "strokeDash": {
              "field": "series", "type": "nominal",
              "scale": {"domain": ["Order Flow", "D2000-1", "EFX"], "range": [[3, 5], [1, 0], [8, 5]]}
            }
          }
        },
        {
          "data": {"name": "efx"},
          "mark": {"type": "line", "color": "black", "strokeWidth": 5},
          "encoding": {
            "x": {"field": "t", "type": "quantitative"},
            "y": {"field": "v", "type": "quantitative"},
            "strokeDash": {"field": "series", "type": "nominal"}
          }
        }
      ]
    }
  ],
  "resolve": {"scale": {"y": "independent"}}
}
